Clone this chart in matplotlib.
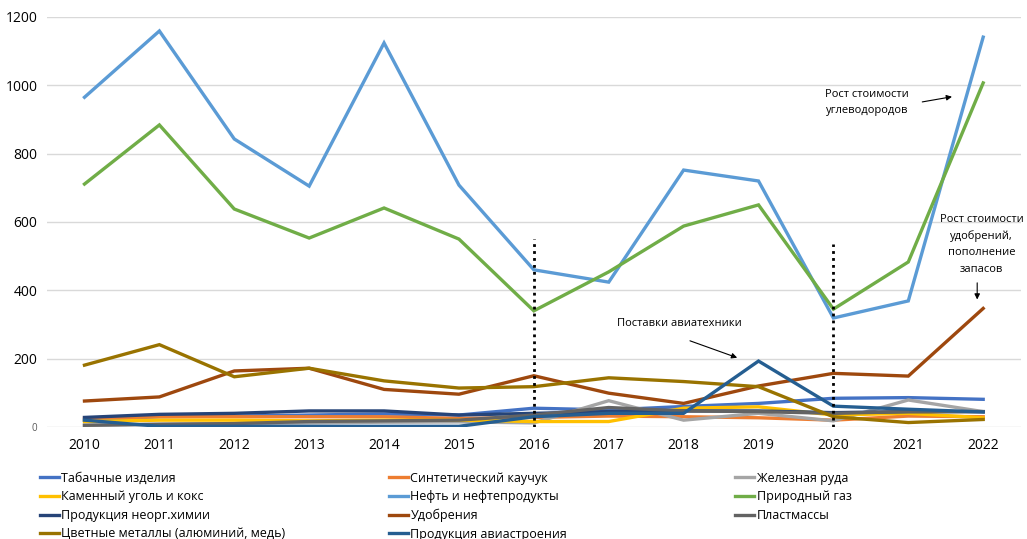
import matplotlib
matplotlib.use('Agg')
import matplotlib.pyplot as plt

plt.rcParams['font.family'] = ['Open Sans', 'DejaVu Sans']

years = list(range(2010, 2023))

# values
tobacco = [20, 30, 32, 35, 38, 35, 55, 50, 60, 69, 84, 86, 81]
rubber = [25, 30, 30, 30, 30, 25, 28, 32, 30, 27, 20, 32, 30]
iron_ore = [5, 8, 10, 12, 14, 15, 12, 77, 20, 40, 18, 79, 45]
coal = [16, 20, 20, 18, 20, 20, 16, 16, 55, 59, 35, 40, 27]
oil = [965, 1159, 843, 705, 1124, 708, 460, 424, 752, 720, 319, 369, 1141]
gas = [711, 884, 638, 553, 641, 550, 340, 454, 588, 650, 345, 483, 1007]
inorganic = [28, 37, 40, 47, 47, 35, 40, 45, 47, 47, 42, 45, 45]
fertilizer = [76, 88, 164, 172, 110, 96, 150, 99, 69, 120, 157, 149, 347]
plastics = [5, 8, 10, 16, 18, 20, 35, 57, 47, 45, 40, 45, 45]
metals = [181, 241, 147, 172, 135, 114, 118, 144, 133, 118, 30, 13, 22]
aviation = [20, 2, 2, 2, 2, 2, 30, 40, 40, 193, 61, 52, 44]

series = [
    ('Табачные изделия', tobacco, '#4472C4'),
    ('Синтетический каучук', rubber, '#ED7D31'),
    ('Железная руда', iron_ore, '#A5A5A5'),
    ('Каменный уголь и кокс', coal, '#FFC000'),
    ('Нефть и нефтепродукты', oil, '#5B9BD5'),
    ('Природный газ', gas, '#70AD47'),
    ('Продукция неорг.химии', inorganic, '#264478'),
    ('Удобрения', fertilizer, '#9E480E'),
    ('Пластмассы', plastics, '#636363'),
    ('Цветные металлы (алюминий, медь)', metals, '#997300'),
    ('Продукция авиастроения', aviation, '#255E91'),
]

fig = plt.figure(figsize=(10.27, 5.39), dpi=100)
ax = fig.add_axes([0.0458, 0.2078, 0.948, 0.7607])

lines = []
for name, vals, color in series:
    ln, = ax.plot(years, vals, color=color, lw=2.4, label=name, solid_joinstyle='miter')
    lines.append(ln)

# dotted markers for 2016 and 2020
ax.plot([2016, 2016], [0, 550], color='black', lw=2, ls=(0, (1, 1.5)))
ax.plot([2020, 2020], [0, 535], color='black', lw=2, ls=(0, (1, 1.5)))

ax.set_xlim(2009.5, 2022.5)
ax.set_ylim(0, 1200)
ax.set_xticks(years)
ax.set_xticklabels([str(y) for y in years], fontsize=10)
ax.set_yticks([0, 200, 400, 600, 800, 1000, 1200])
ax.set_yticklabels(['0', '200', '400', '600', '800', '1000', '1200'], fontsize=10)
ax.get_yticklabels()[0].set_fontsize(7)
ax.get_yticklabels()[0].set_color('#595959')
ax.tick_params(length=0)
ax.tick_params(axis='x', pad=8)
ax.tick_params(axis='y', pad=7)
ax.grid(axis='y', color='#D9D9D9', lw=1)
ax.set_axisbelow(True)
for s in ax.spines.values():
    s.set_visible(False)

# annotations
ax.annotate('', xy=(2018.75, 200), xytext=(2018.05, 255),
            arrowprops=dict(arrowstyle='-|>', color='black', lw=0.8, mutation_scale=8))
ax.text(2017.95, 303, 'Поставки авиатехники', fontsize=8, ha='center', va='center')

ax.annotate('', xy=(2021.62, 968), xytext=(2021.15, 950),
            arrowprops=dict(arrowstyle='-|>', color='black', lw=0.8, mutation_scale=8))
ax.text(2020.45, 950, 'Рост стоимости\nуглеводородов', fontsize=8, ha='center', va='center',
        linespacing=1.6)

ax.annotate('', xy=(2021.92, 365), xytext=(2021.92, 430),
            arrowprops=dict(arrowstyle='-|>', color='black', lw=0.8, mutation_scale=8))
ax.text(2021.98, 535, 'Рост стоимости\nудобрений,\nпополнение\nзапасов', fontsize=8,
        ha='center', va='center', linespacing=1.65)

# legend: three columns at fixed positions, filled row by row
col_x = [0.039, 0.379, 0.716]
for c in range(3):
    idx = list(range(c, len(lines), 3))
    fig.legend([lines[i] for i in idx], [series[i][0] for i in idx],
               loc='upper left', bbox_to_anchor=(col_x[c], 0.125), frameon=False,
               fontsize=9, handlelength=1.5, handletextpad=0.2,
               labelspacing=0.45, borderaxespad=0, borderpad=0)

fig.savefig('out.png', dpi=100)
